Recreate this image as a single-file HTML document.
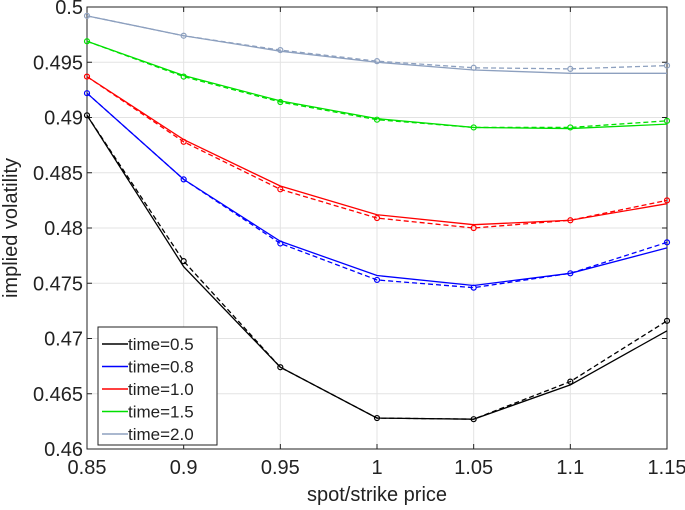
<!DOCTYPE html>
<html><head><meta charset="utf-8"><style>
body{margin:0;background:#fff;}
svg{display:block;font-family:"Liberation Sans",sans-serif;}
</style></head><body>
<svg id="c" width="685" height="510"></svg>
<script>
const xs=[0.85,0.9,0.95,1.0,1.05,1.1,1.15];
const labels=["time=0.5","time=0.8","time=1.0","time=1.5","time=2.0"];
const colors=["#000000","#0000ff","#ff0000","#00e000","#8da0bf"];
const solid0=[0.4902,0.4765,0.4674,0.4628,0.4627,0.4658,0.4707];
const dash0=[0.4902,0.4770,0.4674,0.4628,0.4627,0.4661,0.4716];
const solid1=[0.4922,0.4844,0.4788,0.4757,0.4748,0.4759,0.4782];
const dash1=[0.4922,0.4844,0.4786,0.4753,0.4746,0.4759,0.4787];
const solid2=[0.4937,0.4880,0.4838,0.4812,0.4803,0.4807,0.4822];
const dash2=[0.4937,0.4878,0.4835,0.4809,0.4800,0.4807,0.4825];
const solid3=[0.4969,0.4938,0.4915,0.4899,0.4891,0.4890,0.4894];
const dash3=[0.4969,0.4937,0.4914,0.4898,0.4891,0.4891,0.4897];
const solid4=[0.4992,0.4974,0.4960,0.4950,0.4943,0.4940,0.4940];
const dash4=[0.4992,0.4974,0.4961,0.4951,0.4945,0.4944,0.4947];
const xTicks=[0.85,0.9,0.95,1,1.05,1.1,1.15];
const xTickLabels=["0.85","0.9","0.95","1","1.05","1.1","1.15"];
const yTicks=[0.46,0.465,0.47,0.475,0.48,0.485,0.49,0.495,0.5];
const yTickLabels=["0.46","0.465","0.47","0.475","0.48","0.485","0.49","0.495","0.5"];
const solids=[solid0,solid1,solid2,solid3,solid4];
const dashes=[dash0,dash1,dash2,dash3,dash4];

const L=87,R=667,T=7,B=449;
const X=v=>L+(v-0.85)/(0.3)*(R-L);
const Y=v=>B-(v-0.46)/(0.04)*(B-T);
const svg=document.getElementById('c');
const NS="http://www.w3.org/2000/svg";
function mk(tag,attrs,parent){const e=document.createElementNS(NS,tag);for(const k in attrs)e.setAttribute(k,attrs[k]);(parent||svg).appendChild(e);return e;}

const grid=mk('g',{});


xTicks.forEach((t,i)=>{
  mk('line',{x1:X(t),x2:X(t),y1:T,y2:B,stroke:'#e3e3e3','stroke-width':1},grid);
  const tx=mk('text',{x:X(t),y:B+25,'font-size':20,'text-anchor':'middle',fill:'#222'});
  tx.textContent=xTickLabels[i];
  
  
  mk('line',{x1:X(t),x2:X(t),y1:B,y2:B-5,stroke:'#222'});
  mk('line',{x1:X(t),x2:X(t),y1:T,y2:T+5,stroke:'#222'});
});
yTicks.forEach((t,i)=>{
  mk('line',{x1:L,x2:R,y1:Y(t),y2:Y(t),stroke:'#e3e3e3','stroke-width':1},grid);
  const tx=mk('text',{x:L-4,y:Y(t)+7,'font-size':20,'text-anchor':'end',fill:'#222'});
  tx.textContent=yTickLabels[i];
  
  
  mk('line',{x1:L,x2:L+5,y1:Y(t),y2:Y(t),stroke:'#222'});
  mk('line',{x1:R,x2:R-5,y1:Y(t),y2:Y(t),stroke:'#222'});
});
const box=mk('rect',{x:L,y:T,width:R-L,height:B-T,fill:'none',stroke:'#222','stroke-width':1});



for(let s=0;s<5;s++){
  const g=mk('g',{});
  
  
  mk('polyline',{points:xs.map((x,i)=>X(x)+','+Y(solids[s][i])).join(' '),fill:'none',stroke:colors[s],'stroke-width':1.3},g);
  mk('polyline',{points:xs.map((x,i)=>X(x)+','+Y(dashes[s][i])).join(' '),fill:'none',stroke:colors[s],'stroke-width':1.3,'stroke-dasharray':'5,3'},g);
  xs.forEach((x,i)=>{
    const c=mk('circle',{cx:X(x),cy:Y(dashes[s][i]),r:2.5,fill:'none',stroke:colors[s],'stroke-width':1.2},g);
    
    
  });
}

const lg=mk('g',{});


mk('rect',{x:98,y:327,width:119,height:118,fill:'#fff',stroke:'#222'},lg);
labels.forEach((lb,i)=>{
  const y=344+i*22.5;
  mk('line',{x1:102,x2:128,y1:y,y2:y,stroke:colors[i],'stroke-width':1.5},lg);
  const t=mk('text',{x:128,y:y+6,'font-size':17,fill:'#222'},lg);
  t.textContent=lb;
  
  
});

const xt=mk('text',{x:(L+R)/2,y:501,'font-size':20,'text-anchor':'middle',fill:'#222'});
xt.textContent='spot/strike price';


const yt=mk('text',{x:0,y:0,'font-size':20,'text-anchor':'middle',fill:'#222',transform:'translate(17,'+(T+B)/2+') rotate(-90)'});
yt.textContent='implied volatility';


</script>
</body></html>
